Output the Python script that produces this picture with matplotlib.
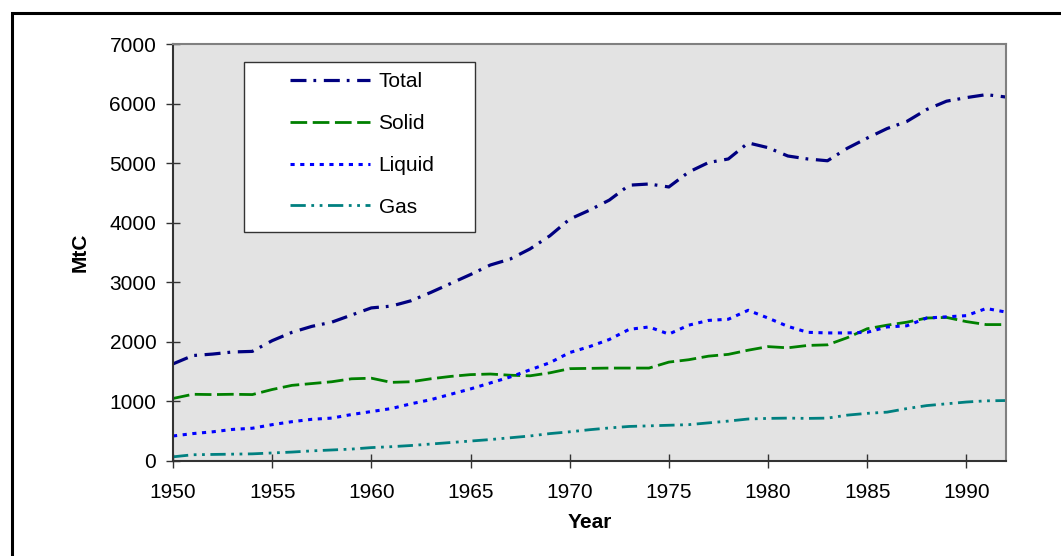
import matplotlib
matplotlib.use('Agg')
import matplotlib.pyplot as plt
from matplotlib.patches import Rectangle

plt.rcParams['font.family'] = ['Liberation Sans', 'DejaVu Sans']
plt.rcParams['lines.scale_dashes'] = False

years = list(range(1950, 1993))
total = [1630, 1770, 1795, 1830, 1840, 2020, 2160, 2260, 2330, 2450, 2570,
         2600, 2690, 2830, 2980, 3130, 3290, 3390, 3560, 3780, 4060,
         4210, 4380, 4630, 4650, 4600, 4850, 5010, 5070, 5340, 5260,
         5120, 5070, 5040, 5250, 5420, 5580, 5700, 5900, 6040, 6100,
         6150, 6110]
solid = [1050, 1120, 1115, 1120, 1115, 1200, 1270, 1300, 1330, 1380, 1390,
         1320, 1330, 1380, 1420, 1450, 1460, 1440, 1430, 1480, 1550,
         1555, 1560, 1560, 1560, 1660, 1700, 1760, 1790, 1860, 1920,
         1900, 1940, 1950, 2070, 2220, 2280, 2330, 2400, 2410, 2340,
         2290, 2290]
liquid = [420, 460, 490, 530, 550, 610, 660, 700, 720, 780, 830,
          880, 960, 1030, 1120, 1210, 1310, 1410, 1530, 1650, 1820,
          1920, 2040, 2210, 2250, 2130, 2280, 2360, 2380, 2530, 2400,
          2260, 2160, 2150, 2150, 2160, 2250, 2270, 2400, 2420, 2440,
          2560, 2500]
gas = [70, 105, 110, 115, 120, 135, 150, 170, 185, 200, 225,
       240, 260, 285, 310, 335, 360, 390, 420, 460, 490,
       525, 555, 580, 590, 600, 610, 640, 670, 705, 715,
       720, 715, 720, 770, 800, 820, 880, 930, 960, 990,
       1010, 1015]

fs = 15

fig = plt.figure(figsize=(10.61, 5.56), dpi=100)
fig.patches.append(Rectangle((12 / 1061, -0.1), 1.2, 1 - 13 / 556 + 0.1,
                             transform=fig.transFigure, fill=False,
                             edgecolor='black', linewidth=2.2))
ax = fig.add_axes([173 / 1061, 1 - 461 / 556, (1006 - 173) / 1061, (461 - 44) / 556])
ax.set_facecolor('#e3e3e3')

ax.plot(years, total, color='#000080', lw=2.3, dashes=(11.5, 5, 2, 5.5), label='Total')
ax.plot(years, solid, color='#008000', lw=2.0, dashes=(12, 4), label='Solid')
ax.plot(years, liquid, color='#0000ff', lw=2.2, dashes=(3, 4), label='Liquid')
ax.plot(years, gas, color='#008080', lw=2.0, dashes=(11, 4, 2, 4, 2, 4), label='Gas')

ax.set_xlim(1950, 1992)
ax.set_ylim(0, 7000)
ax.set_xticks(range(1950, 1991, 5))
ax.set_yticks(range(0, 7001, 1000))
ax.tick_params(direction='inout', length=10, width=1, labelsize=fs, color='#333333')
ax.tick_params(axis='x', pad=10.5)
ax.tick_params(axis='y', pad=7)
for s in ['left', 'bottom']:
    ax.spines[s].set_color('#333333')
    ax.spines[s].set_linewidth(1.5)
for s in ['top', 'right']:
    ax.spines[s].set_color('#808080')
    ax.spines[s].set_linewidth(1.5)

ax.set_xlabel('Year', fontsize=fs, fontweight='bold', labelpad=8)
ax.set_ylabel('MtC', fontsize=fs, fontweight='bold', labelpad=14)

# legend box drawn separately so the inner padding can differ per side
ax.add_patch(Rectangle(((244 - 173) / 833, (461 - 232) / 417), 231 / 833, 170 / 417,
                       transform=ax.transAxes, facecolor='white',
                       edgecolor='#333333', linewidth=1.0, zorder=4))
leg = ax.legend(loc='upper left', bbox_to_anchor=((290 - 173) / 833, (461 - 72) / 417),
                fontsize=fs, frameon=False, handlelength=3.85,
                handletextpad=0.4, labelspacing=1.1, borderpad=0,
                borderaxespad=0)
leg.set_zorder(5)

fig.savefig('out.png', dpi=100)
